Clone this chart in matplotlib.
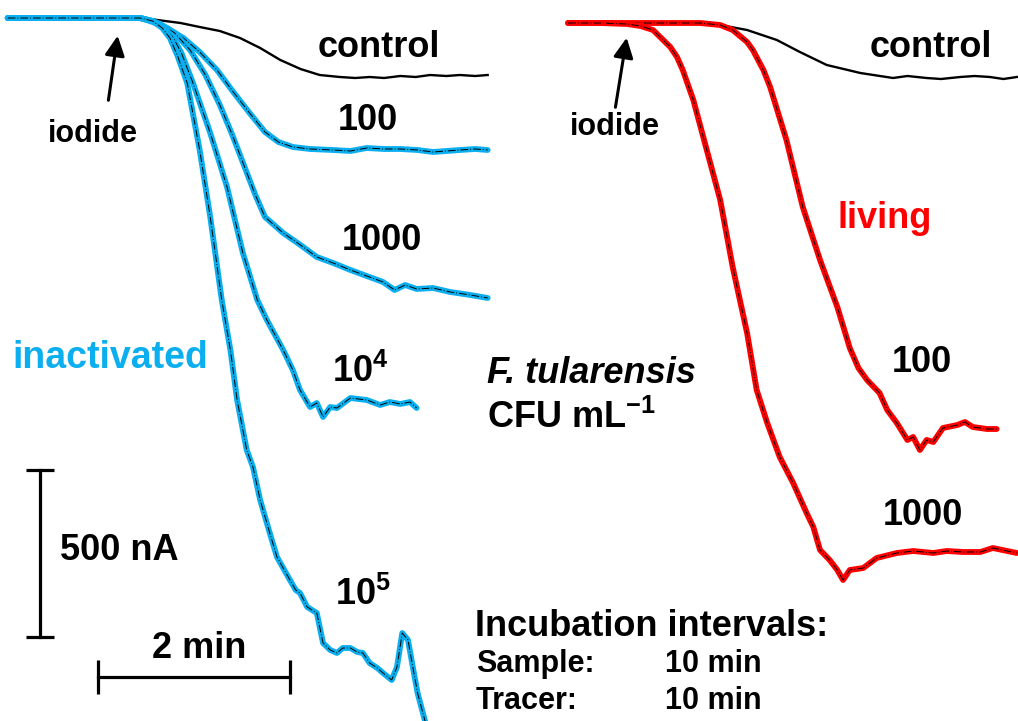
import matplotlib
matplotlib.use("Agg")
import matplotlib.pyplot as plt

plt.rcParams['font.family'] = ['Liberation Sans', 'DejaVu Sans']
plt.rcParams['mathtext.fontset'] = 'custom'
plt.rcParams['mathtext.rm'] = 'Liberation Sans'
plt.rcParams['mathtext.bf'] = 'Liberation Sans:bold'
plt.rcParams['mathtext.it'] = 'Liberation Sans:italic'

CYAN = '#0BAFEF'
RED = '#FF0000'

# ---- left panel: inactivated bacteria (time in min, current in nA) ----
t_ctrl_l = [-1.17, 0.31, 0.63, 0.83, 1.04, 1.25, 1.46, 1.67, 1.88, 2.08, 2.29, 2.45, 2.60,
            2.75, 2.92, 3.08, 3.23, 3.40, 3.54, 3.70, 3.83]
i_ctrl_l = [0, -3, -15, -27, -39, -60, -90, -126, -153, -171, -177, -180, -177,
            -180, -174, -177, -171, -174, -171, -174, -171]

t_in100 = [-1.17, 0.21, 0.34, 0.49, 0.66, 0.83, 1.01, 1.18, 1.35, 1.51, 1.65, 1.80, 1.98,
           2.22, 2.40, 2.57, 2.75, 2.92, 3.10, 3.26, 3.40, 3.54, 3.70, 3.83]
i_in100 = [0, 0, -12, -30, -60, -102, -156, -222, -285, -342, -372, -387, -393,
           -396, -399, -390, -393, -393, -396, -402, -399, -396, -393, -396]

t_in1000 = [-1.17, 0.21, 0.34, 0.42, 0.57, 0.73, 0.89, 1.04, 1.17, 1.29, 1.41, 1.51, 1.70, 1.88,
            2.05, 2.22, 2.40, 2.57, 2.74, 2.86, 2.97, 3.09, 3.26, 3.44, 3.65, 3.83]
i_in1000 = [0, 0, -9, -18, -45, -96, -171, -261, -351, -441, -531, -597, -645, -681,
            -717, -735, -756, -774, -792, -816, -801, -813, -810, -822, -831, -840]

t_in1e4 = [-1.17, 0.21, 0.34, 0.45, 0.55, 0.64, 0.76, 0.94, 1.115, 1.28, 1.43, 1.53, 1.70, 1.80,
           1.875, 1.98, 2.05, 2.115, 2.19, 2.26, 2.40, 2.57, 2.71, 2.81, 2.92, 3.02, 3.09]
i_in1e4 = [0, 0, -9, -27, -57, -105, -195, -345, -507, -705, -846, -906, -996, -1056,
           -1116, -1167, -1155, -1197, -1167, -1170, -1140, -1146, -1161, -1152, -1158, -1152, -1170]

t_in1e5 = [-1.17, 0.21, 0.34, 0.44, 0.52, 0.60, 0.70, 0.83, 0.94, 1.06, 1.15, 1.22, 1.32, 1.385,
           1.46, 1.56, 1.635, 1.77, 1.83, 1.875, 1.95, 2.05, 2.115, 2.19, 2.26, 2.32, 2.40,
           2.47, 2.53, 2.60, 2.68, 2.74, 2.83, 2.885, 2.94, 3.0, 3.05, 3.10, 3.18]
i_in1e5 = [0, 0, -9, -30, -60, -114, -195, -396, -597, -846, -996, -1146, -1296, -1347,
           -1446, -1545, -1617, -1686, -1716, -1725, -1767, -1785, -1875, -1896, -1905, -1890, -1890,
           -1902, -1905, -1935, -1950, -1965, -1986, -1947, -1845, -1866, -1947, -2025, -2112]

# ---- right panel: living bacteria ----
t_ctrl_r = [-0.635, 0.74, 0.95, 1.23, 1.54, 1.78, 2.06, 2.41, 2.75, 2.90, 3.10, 3.25, 3.45,
            3.60, 3.76, 3.90, 4.04]
i_ctrl_r = [0, 0, -6, -21, -51, -87, -126, -150, -165, -159, -165, -168, -162,
            -159, -162, -168, -162]

t_liv100 = [-0.635, 0.635, 0.74, 0.95, 1.08, 1.23, 1.29, 1.40, 1.47, 1.64, 1.81, 1.99, 2.17,
            2.30, 2.39, 2.48, 2.61, 2.69, 2.79, 2.90, 2.96, 3.03, 3.10, 3.17, 3.27, 3.42, 3.50,
            3.58, 3.73, 3.83]
i_liv100 = [0, 0, 0, -6, -21, -57, -81, -141, -192, -351, -552, -711, -852,
            -975, -1035, -1071, -1110, -1161, -1200, -1251, -1242, -1281, -1251, -1257, -1215, -1206, -1197,
            -1212, -1218, -1218]

t_liv1000 = [-0.635, -0.30, -0.02, 0.12, 0.25, 0.43, 0.50, 0.56, 0.67, 0.81, 0.95, 1.08, 1.23,
             1.33, 1.44, 1.57, 1.71, 1.85, 1.92, 1.99, 2.09, 2.17, 2.23, 2.30, 2.44, 2.58, 2.79,
             2.96, 3.17, 3.31, 3.48, 3.66, 3.79, 4.04]
i_liv1000 = [0, 0, -3, -9, -21, -72, -102, -141, -231, -381, -531, -732, -930,
             -1101, -1200, -1302, -1380, -1470, -1512, -1581, -1611, -1641, -1671, -1641, -1635, -1605, -1590,
             -1584, -1590, -1584, -1587, -1587, -1575, -1590]

W, H = 1018, 721
fig = plt.figure(figsize=(W / 100, H / 100), dpi=100)
axL = fig.add_axes([0, 0, 0.5, 1])
axR = fig.add_axes([0.5, 0, 0.5, 1])
axL.set_xlim(-1.25, 4.052)
axL.set_ylim(-2109, 54)
axR.set_xlim(-1.25, 4.052)
axR.set_ylim(-2094, 69)
for ax in (axL, axR):
    ax.axis('off')

fit_style = dict(color='black', lw=0.7, ls=(0, (8, 2, 1, 2)), solid_joinstyle='round')


def trace(ax, t, i, color):
    ax.plot(t, i, color=color, lw=4.2, solid_joinstyle='round', solid_capstyle='round')
    ax.plot(t, i, **fit_style)


axL.plot(t_ctrl_l, i_ctrl_l, color='black', lw=1.7)
for t, i in [(t_in100, i_in100), (t_in1000, i_in1000), (t_in1e4, i_in1e4), (t_in1e5, i_in1e5)]:
    trace(axL, t, i, CYAN)

axR.plot(t_ctrl_r, i_ctrl_r, color='black', lw=1.7)
for t, i in [(t_liv100, i_liv100), (t_liv1000, i_liv1000)]:
    trace(axR, t, i, RED)

# iodide arrows
arrow = dict(arrowstyle='-|>', color='black', lw=2.2, mutation_scale=30)
axL.annotate('', xy=(-0.02, -45), xytext=(-0.125, -255), arrowprops=arrow)
axR.annotate('', xy=(-0.02, -36), xytext=(-0.146, -261), arrowprops=arrow)

# scale bars: 500 nA and 2 min
axL.plot([-0.833, -0.833], [-1356, -1856], color='black', lw=2.3,
         marker='_', ms=20, mew=2.3)
axL.plot([-0.229, 1.771], [-1977, -1977], color='black', lw=2.3,
         marker='|', ms=24, mew=2.3)


def label(x, y, s, size=26, color='black', **kw):
    fig.text(x / W, 1 - y / H, s, fontsize=size, color=color, fontweight='bold',
             ha='left', va='baseline', **kw)


label(318, 57, 'control')
label(338, 130, '100')
label(342, 250, '1000')
label(332, 382, r'$\mathbf{10^4}$')
label(335, 605, r'$\mathbf{10^5}$')
label(48, 142, 'iodide', size=22)
label(12, 368, 'inactivated', size=27, color=CYAN)
label(60, 560, '500 nA')
label(152, 658, '2 min')

label(487, 383, 'F. tularensis', fontstyle='italic')
label(487, 428, r'CFU mL$^{\mathbf{-1}}$')

label(475, 636, 'Incubation intervals:')
label(476, 672, 'Sample:', size=22)
label(665, 672, '10 min', size=22)
label(476, 709, 'Tracer:', size=22)
label(665, 709, '10 min', size=22)

label(870, 57, 'control')
label(570, 135, 'iodide', size=22)
label(837, 228, 'living', color=RED)
label(892, 372, '100')
label(883, 525, '1000')

fig.savefig('out.png', dpi=100)
